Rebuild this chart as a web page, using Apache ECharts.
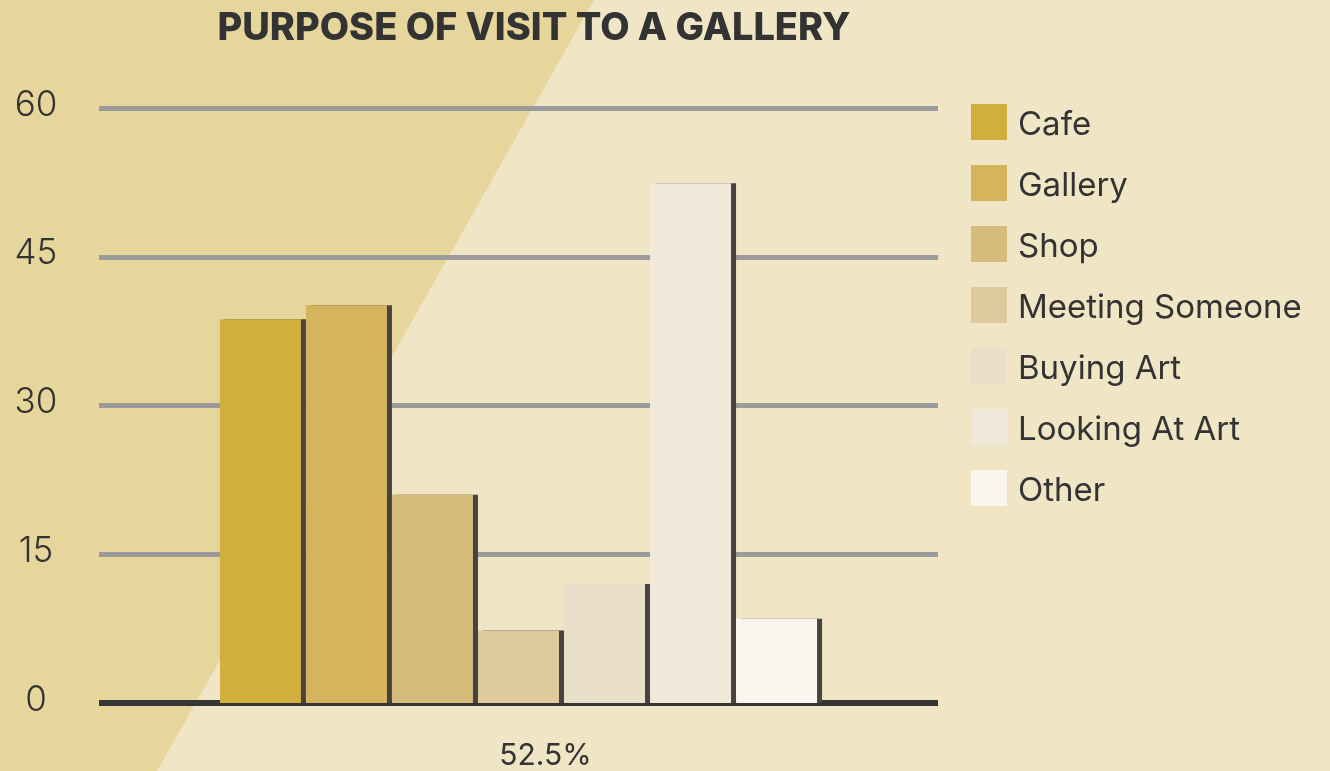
<!DOCTYPE html>
<html>
<head>
<meta charset="utf-8">
<script src="https://cdn.jsdelivr.net/npm/echarts@6/dist/echarts.min.js"></script>
<style>
  html, body { margin: 0; padding: 0; background: #f0e5c5; }
  #chart { width: 1330px; height: 771px; }
</style>
</head>
<body>
<div id="chart"></div>
<script>
// 数据
var categories = ['52.5%'];
var seriesNames = ['Cafe', 'Gallery', 'Shop', 'Meeting Someone', 'Buying Art', 'Looking At Art', 'Other'];
var seriesValues = [38.7, 40.1, 21, 7.3, 12, 52.4, 8.5];
var seriesColors = ['#d2ae3f', '#d4b45c', '#d6bc7a', '#dfca9d', '#eadfc8', '#f0e9da', '#faf6ef'];
var yTicks = [0, 15, 30, 45, 60];

var chart = echarts.init(document.getElementById('chart'));
var font = 'Inter, "Noto Sans", sans-serif';

var series = seriesNames.map(function(name, i) {
    return {
        name: name,
        type: 'bar',
        data: [seriesValues[i]],
        barWidth: 81,
        barGap: '6.2%',
        itemStyle: {
            color: seriesColors[i],
            shadowColor: '#48433f',
            shadowOffsetX: 5,
            shadowOffsetY: 0,
            shadowBlur: 0
        }
    };
});

chart.setOption({
    backgroundColor: '#f0e5c5',
    animation: false,
    graphic: [{
        type: 'polygon',
        z: -10,
        silent: true,
        shape: {points: [[0, 0], [594, 0], [157, 771], [0, 771]]},
        style: {fill: '#e7d69c'}
    }],
    title: {
        text: 'PURPOSE OF VISIT TO A GALLERY',
        left: 529,
        textAlign: 'center',
        top: 5,
        textStyle: {fontFamily: font, fontWeight: 800, fontSize: 38, color: '#333333'}
    },
    legend: {
        orient: 'vertical',
        left: 971,
        top: 104,
        padding: 0,
        itemWidth: 36,
        itemHeight: 36,
        itemGap: 23.5,
        icon: 'rect',
        formatter: '{t|{name}}',
        textStyle: {
            fontFamily: font, fontSize: 33, color: '#333333',
            rich: {t: {fontFamily: font, fontSize: 33, color: '#333333', padding: [6, 0, 0, 6]}}
        },
        data: seriesNames
    },
    grid: {left: 99, right: 392, top: 108, bottom: 68},
    xAxis: {
        type: 'category',
        data: categories,
        axisLine: {show: true, lineStyle: {color: '#353535', width: 6, cap: 'butt'}},
        axisTick: {show: false},
        axisLabel: {fontFamily: font, fontSize: 30, color: '#333333', margin: 38, padding: [0, 0, 0, 54]}
    },
    yAxis: {
        type: 'value',
        min: 0,
        max: 60,
        interval: 15,
        axisLine: {show: false},
        axisTick: {show: false},
        splitLine: {lineStyle: {color: '#9b9b9b', width: 5, cap: 'butt'}},
        axisLabel: {
            align: 'center', margin: 63,
            formatter: '{v|{value}}',
            rich: {v: {fontFamily: font, fontSize: 35, fontWeight: 300, color: '#333333', padding: [0, 0, 6, 0]}}
        }
    },
    series: series
});
</script>
</body>
</html>
